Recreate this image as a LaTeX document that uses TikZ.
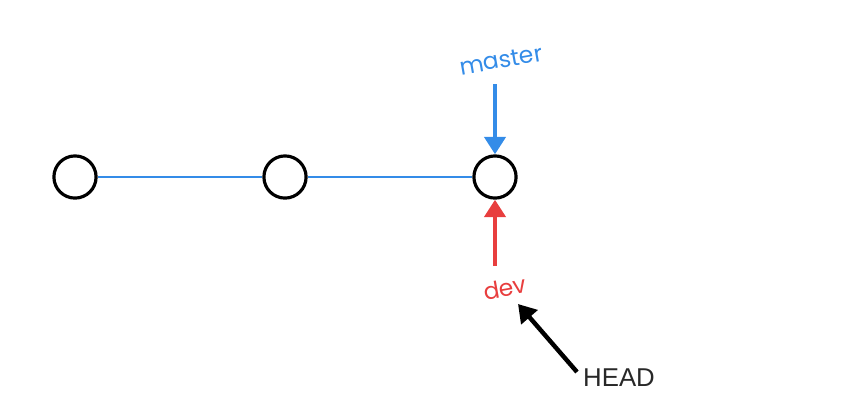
\documentclass[tikz,border=0pt]{standalone}
\usepackage{fontspec}
\setsansfont{Liberation Sans}
\newfontfamily\labelfont{Poppins}
\usetikzlibrary{arrows.meta}

\definecolor{branchblue}{RGB}{52,140,232}
\definecolor{branchred}{RGB}{232,62,62}
\definecolor{headgray}{RGB}{40,40,40}

\tikzset{
  commit/.style={circle, draw=black, line width=2.7pt, minimum size=36pt, inner sep=0pt, fill=white},
  link/.style={draw=branchblue, line width=1.7pt},
  ptr/.style={line width=3.8pt, -{Triangle[length=15pt, width=18pt]}},
}

\begin{document}
\begin{tikzpicture}[x=0.03cm, y=-0.03cm]
    % Fix the picture size
    \useasboundingbox (0,0) rectangle (842,416);

    % Draw the commits
    \node[commit] (c1) at (75,177) {};
    \node[commit] (c2) at (285,177) {};
    \node[commit] (c3) at (495,177) {};

    % Draw the history line
    \draw[link] (c1) -- (c2);
    \draw[link] (c2) -- (c3);

    % Branch and head labels
    \node[text=branchblue, rotate=10, inner sep=0pt, font=\labelfont\fontsize{20}{20}\selectfont] (master) at (501,60) {master};
    \node[text=branchred, rotate=10, inner sep=0pt, font=\labelfont\fontsize{20}{20}\selectfont] (dev) at (505,288) {dev};
    \node[text=headgray, anchor=west, inner sep=0pt, font=\sffamily\fontsize{22}{22}\selectfont] (head) at (583,378) {HEAD};

    % Arrow tails
    \coordinate (mtail) at (495,84);
    \coordinate (dtail) at (495,266);
    \coordinate (htail) at (577,372);
    \coordinate (htip) at (518,304);

    % Draw the pointers
    \draw[ptr, branchblue] (mtail) -- (c3);
    \draw[ptr, branchred] (dtail) -- (c3);
    \draw[ptr, black] (htail) -- (htip);

\end{tikzpicture}
\end{document}
